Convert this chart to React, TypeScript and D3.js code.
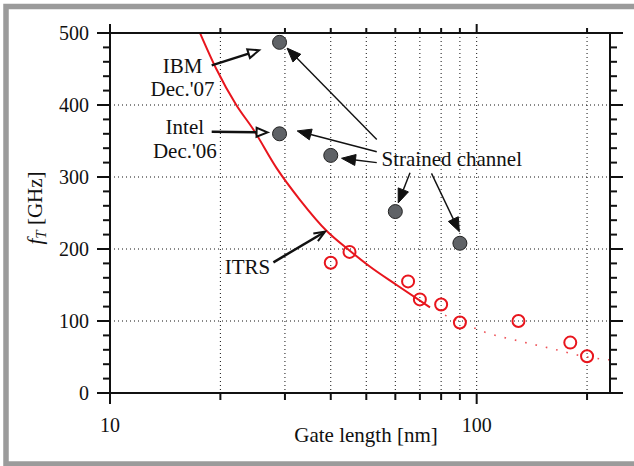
import React from "react";
import * as d3 from "d3";

// ---- data ----
const redLen = [40, 45, 65, 70, 80, 90, 130, 180, 200];
const redFt = [181, 196, 155, 130, 123, 98, 100, 70, 51];

const grayLen = [29, 29, 40, 60, 90];
const grayFt = [487, 360, 330, 252, 208];

const itrsLen = [17.6, 19.5, 22.1, 24.6, 28.5, 33, 39, 45, 51, 60.5, 74.6];
const itrsFt = [500, 450, 400, 366, 312, 268, 225, 198, 176, 150, 119];

const itrsExtLen = [82, 90, 106, 131, 162, 200, 231];
const itrsExtFt = [108, 99, 84, 72, 61, 50, 46];

const yTicks = [0, 100, 200, 300, 400, 500];
const yMinor = d3.range(0, 501, 20);
const xMajor = [10, 100];
const xMinor = [20, 30, 40, 50, 60, 70, 80, 90, 200];
const xGrid = [20, 30, 40, 50, 60, 70, 80, 90, 100, 200];
const yGrid = [100, 200, 300, 400];

// annotations (data coords: [gate length, fT])
type Arrow = { from: [number, number]; to: [number, number]; kind: "open" | "filled" | "vee"; w: number };
const arrows: Arrow[] = [
  { from: [18.94, 455], to: [25.5, 476], kind: "open", w: 2.5 },
  { from: [18.94, 363], to: [26.9, 362], kind: "open", w: 2.5 },
  { from: [53.4, 352], to: [30.4, 479], kind: "filled", w: 1.4 },
  { from: [53.4, 335], to: [32.4, 364], kind: "filled", w: 1.4 },
  { from: [53.4, 320], to: [42.8, 326], kind: "filled", w: 1.4 },
  { from: [65.8, 306], to: [61.1, 264], kind: "filled", w: 1.4 },
  { from: [75.3, 305], to: [89.7, 224], kind: "filled", w: 1.4 },
  { from: [27.9, 181.5], to: [38.6, 224], kind: "vee", w: 2.5 },
];

const labels: { text: string; at: [number, number]; anchor: string }[] = [
  { text: "IBM", at: [15.77, 444], anchor: "middle" },
  { text: "Dec.'07", at: [15.77, 412], anchor: "middle" },
  { text: "Intel", at: [16.0, 360], anchor: "middle" },
  { text: "Dec.'06", at: [16.0, 326], anchor: "middle" },
  { text: "ITRS", at: [23.7, 165], anchor: "middle" },
  { text: "Strained channel", at: [55.0, 315], anchor: "start" },
];

const W = 634;
const H = 466;
const L = 110, R = 610, T = 33, B = 393;
const FONT = "'Liberation Serif', 'Times New Roman', serif";
const RED = "#e8151d";

export default function App() {
  const x = d3.scaleLog().domain([10, 231]).range([L, R]);
  const y = d3.scaleLinear().domain([0, 500]).range([B, T]);

  const itrsPts = itrsLen.map((l, i) => [l, itrsFt[i]] as [number, number]);
  const extPts = itrsExtLen.map((l, i) => [l, itrsExtFt[i]] as [number, number]);
  const line = d3
    .line<[number, number]>()
    .x((d) => x(d[0]))
    .y((d) => y(d[1]))
    .curve(d3.curveMonotoneX);

  const renderArrow = (a: Arrow, i: number) => {
    const x0 = x(a.from[0]), y0 = y(a.from[1]);
    const x1 = x(a.to[0]), y1 = y(a.to[1]);
    const dx = x1 - x0, dy = y1 - y0;
    const len = Math.hypot(dx, dy);
    const ux = dx / len, uy = dy / len;
    const px = -uy, py = ux;
    const hl = a.kind === "filled" ? 14 : 11;
    const hw = a.kind === "filled" ? 5.5 : 4.5;
    const bx = x1 - ux * hl, by = y1 - uy * hl;
    const p1 = [bx + px * hw, by + py * hw];
    const p2 = [bx - px * hw, by - py * hw];
    if (a.kind === "vee") {
      return (
        <g key={i} stroke="#111" strokeWidth={a.w} fill="none" strokeLinecap="butt">
          <line x1={x0} y1={y0} x2={x1 - ux * 1.5} y2={y1 - uy * 1.5} />
          <polyline points={`${p1[0]},${p1[1]} ${x1},${y1} ${p2[0]},${p2[1]}`} strokeWidth={2} />
        </g>
      );
    }
    return (
      <g key={i}>
        <line x1={x0} y1={y0} x2={bx} y2={by} stroke="#111" strokeWidth={a.w} />
        <polygon
          points={`${x1},${y1} ${p1[0]},${p1[1]} ${p2[0]},${p2[1]}`}
          fill={a.kind === "filled" ? "#111" : "#fff"}
          stroke="#111"
          strokeWidth={a.kind === "filled" ? 1 : 2}
          strokeLinejoin="miter"
        />
      </g>
    );
  };

  return (
    <div style={{ position: "absolute", left: 0, top: 0, width: W, height: H }}>
      <svg width={W} height={H} style={{ display: "block" }} fontFamily={FONT}>
        <rect x={0} y={0} width={W} height={H} fill="#fff" />
        {/* gray frame */}
        <rect x={6} y={6.5} width={W + 20} height={457.5} fill="none" stroke="#9b9b9b" strokeWidth={5.5} />

        {/* grid */}
        <g stroke="#111" strokeWidth={1} strokeDasharray="1,3" fill="none">
          {xGrid.map((v) => (
            <line key={"xg" + v} x1={x(v)} x2={x(v)} y1={T} y2={B} />
          ))}
          {yGrid.map((v) => (
            <line key={"yg" + v} x1={L} x2={R} y1={y(v)} y2={y(v)} />
          ))}
        </g>

        {/* ITRS curve */}
        <path d={line(itrsPts) || ""} fill="none" stroke={RED} strokeWidth={2} />
        <path d={line(extPts) || ""} fill="none" stroke={RED} strokeOpacity={0.75} strokeWidth={1.6} strokeDasharray="1.6,9" />

        {/* red open circles */}
        {redLen.map((l, i) => (
          <circle key={"r" + i} cx={x(l)} cy={y(redFt[i])} r={6} fill="none" stroke={RED} strokeWidth={2} />
        ))}

        {/* gray filled circles */}
        {grayLen.map((l, i) => (
          <circle key={"g" + i} cx={x(l)} cy={y(grayFt[i])} r={7} fill="#5f6266" stroke="#222" strokeWidth={1} />
        ))}

        {/* arrows */}
        {arrows.map(renderArrow)}

        {/* labels */}
        {labels.map((lb, i) => (
          <text key={"lb" + i} x={x(lb.at[0])} y={y(lb.at[1])} fontSize={21} textAnchor={lb.anchor} fill="#111">
            {lb.text}
          </text>
        ))}

        {/* axes frame */}
        <g stroke="#111" strokeWidth={2} fill="none">
          <line x1={L - 13} x2={R + 13} y1={T} y2={T} />
          <line x1={L - 13} x2={R + 13} y1={B} y2={B} />
          <line x1={L} x2={L} y1={T} y2={B} />
          <line x1={R} x2={R} y1={T} y2={B} />
          {yMinor.map((v) => {
            const major = v % 100 === 0;
            const len = major ? 13 : 7;
            return (
              <g key={"yt" + v}>
                <line x1={L - len} x2={L} y1={y(v)} y2={y(v)} />
                <line x1={R} x2={R + len} y1={y(v)} y2={y(v)} />
              </g>
            );
          })}
          {xMajor.map((v) => (
            <g key={"xM" + v}>
              <line x1={x(v)} x2={x(v)} y1={T - 9} y2={T} />
              <line x1={x(v)} x2={x(v)} y1={B} y2={B + 11} />
            </g>
          ))}
          {xMinor.map((v) => (
            <g key={"xm" + v}>
              <line x1={x(v)} x2={x(v)} y1={T - 5} y2={T} />
              <line x1={x(v)} x2={x(v)} y1={B} y2={B + 7} />
            </g>
          ))}
        </g>

        {/* tick labels */}
        {yTicks.map((v) => (
          <text key={"yl" + v} x={L - 21} y={y(v) + 7} fontSize={20} textAnchor="end" fill="#111">
            {v}
          </text>
        ))}
        {xMajor.map((v) => (
          <text key={"xl" + v} x={x(v)} y={432} fontSize={20} textAnchor="middle" fill="#111">
            {v}
          </text>
        ))}

        {/* axis titles */}
        <text x={(L + R) / 2 + 6} y={442} fontSize={21} textAnchor="middle" fill="#111">
          Gate length [nm]
        </text>
        <text transform={`translate(42,208) rotate(-90)`} fontSize={21} textAnchor="middle" fill="#111">
          <tspan fontStyle="italic">f</tspan>
          <tspan fontStyle="italic" fontSize={15} dy={4}>T</tspan>
          <tspan dy={-4}> [GHz]</tspan>
        </text>
      </svg>
    </div>
  );
}
